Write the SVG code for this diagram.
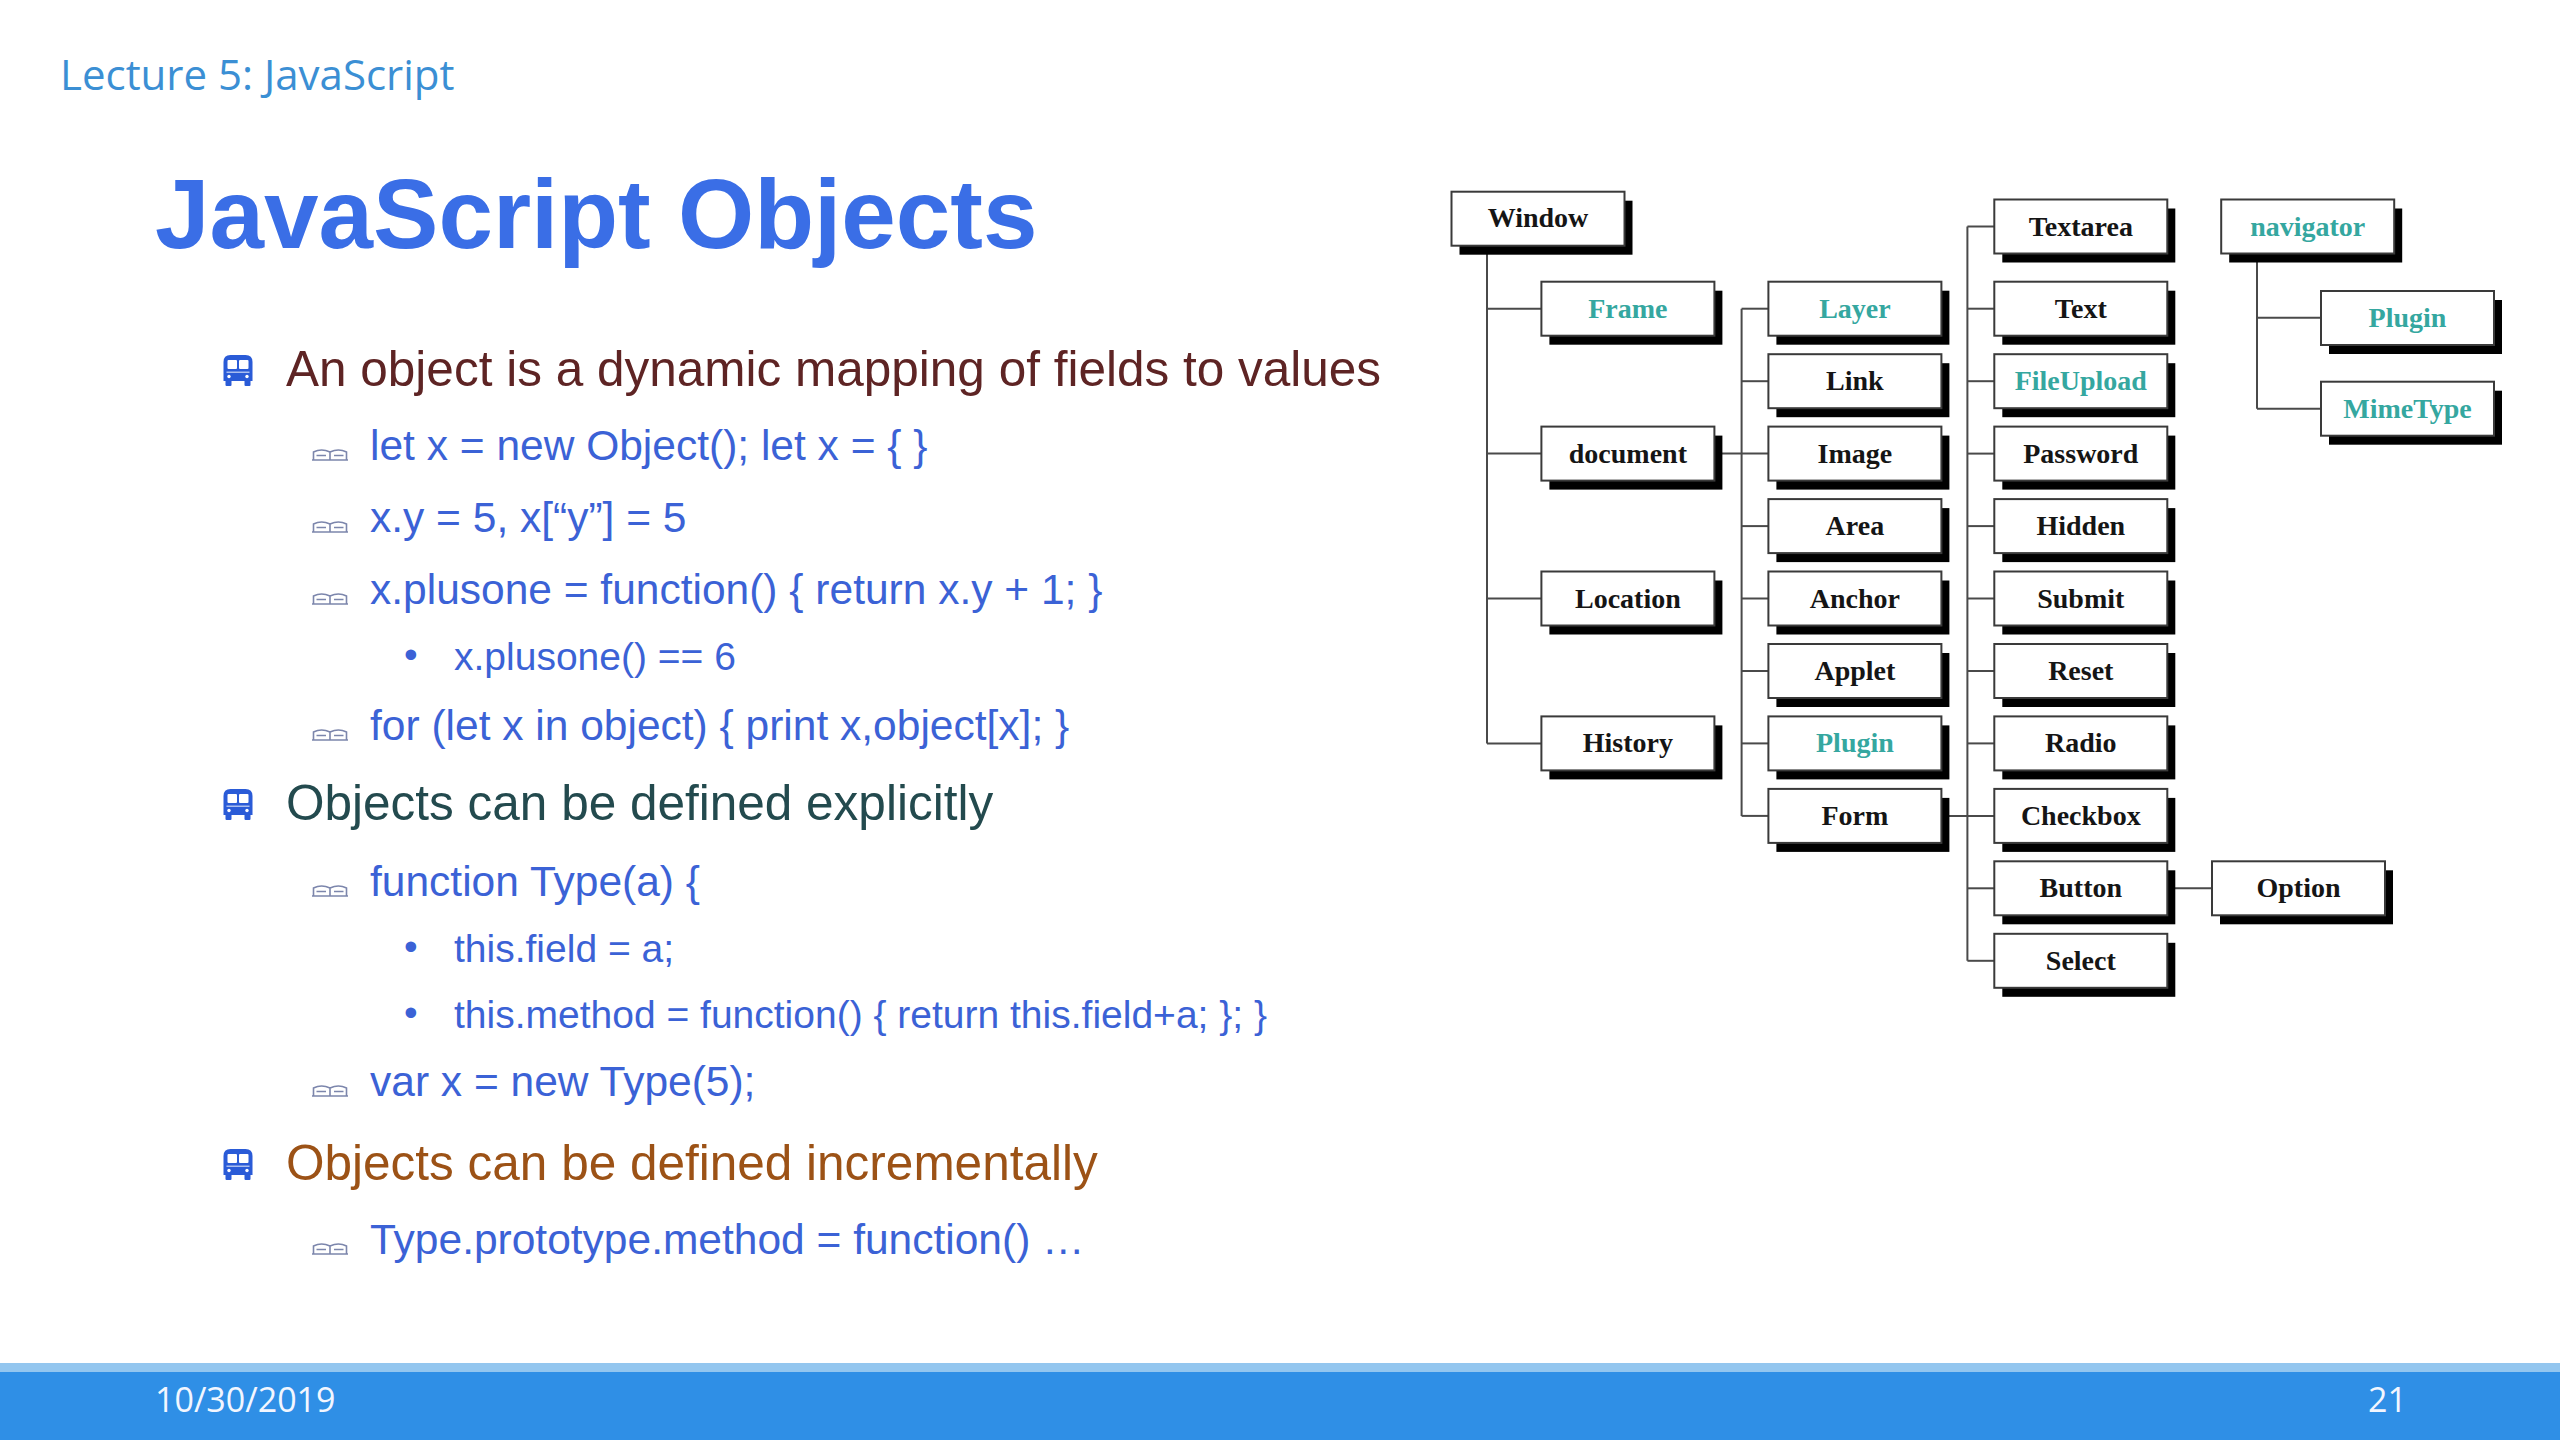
<svg xmlns="http://www.w3.org/2000/svg" xmlns:xlink="http://www.w3.org/1999/xlink" width="2560" height="1440" viewBox="0 0 2560 1440">
<style>
  .hdr{font-family:"Open Sans","Liberation Sans",sans-serif;font-size:42px;fill:#3b8fd4}
  .title{font-family:"Liberation Sans",Arial,sans-serif;font-size:98px;font-weight:bold;fill:#3a6ee6}
  .l1{font-family:"Liberation Sans",Arial,sans-serif;font-size:49.5px}
  .l2{font-family:"Liberation Sans",Arial,sans-serif;font-size:42.5px;fill:#3b62d6}
  .l3{font-family:"Liberation Sans",Arial,sans-serif;font-size:39px;fill:#3b62d6}
  .foot{font-family:"Open Sans","Liberation Sans",sans-serif;font-size:34px;fill:#f2f6ff}
  .box{fill:#ffffff;stroke:#3a3a3a;stroke-width:2}
  .sh{fill:#000000}
  .lbl{font-family:"Liberation Serif","Times New Roman",serif;font-size:28px;font-weight:bold;fill:#151515;text-anchor:middle}
  .teal{fill:#35a7a0}
  .conn line{stroke:#4a4a4a;stroke-width:2}
</style>
<defs>
  <g id="bus">
    <path d="M0,26 L0,7 Q0,0 7,0 L22,0 Q29,0 29,7 L29,26 Z" fill="#2a5bd7"/>
    <rect x="2" y="25" width="6" height="6" rx="1" fill="#2a5bd7"/>
    <rect x="21" y="25" width="6" height="6" rx="1" fill="#2a5bd7"/>
    <rect x="4" y="5" width="9.5" height="9" rx="1" fill="#ffffff"/>
    <rect x="15.5" y="5" width="9.5" height="9" rx="1" fill="#ffffff"/>
    <rect x="3" y="16.5" width="23" height="1.5" fill="#ffffff" opacity="0.6"/>
    <circle cx="5.5" cy="21.5" r="1.7" fill="#ffffff"/>
    <circle cx="23.5" cy="21.5" r="1.7" fill="#ffffff"/>
  </g>
  <g id="book">
    <path d="M0,13 L36,13 M1.5,13 L1.5,5 Q9.5,1 18,5 Q26.5,1 34.5,5 L34.5,13 M18,5 L18,13 M4.5,8.5 L14,8.5 M22,8.5 L31.5,8.5" fill="none" stroke="#7c86ac" stroke-width="1.6"/>
  </g>
  <g id="node">
    <rect class="sh" x="8" y="9" width="173" height="54"/>
    <rect class="box" x="0" y="0" width="173" height="54"/>
  </g>
</defs>
<rect width="2560" height="1440" fill="#ffffff"/>

<text class="hdr" x="60" y="90">Lecture 5: JavaScript</text>
<text class="title" x="155" y="248">JavaScript Objects</text>

<g id="bullets">
  <use xlink:href="#bus" href="#bus" x="223.5" y="355"/>
  <text class="l1" x="286" y="386" fill="#5e2424">An object is a dynamic mapping of fields to values</text>
  <use xlink:href="#book" href="#book" x="312" y="447"/>
  <text class="l2" x="370" y="460">let x = new Object(); let x = { }</text>
  <use xlink:href="#book" href="#book" x="312" y="519"/>
  <text class="l2" x="370" y="532">x.y = 5, x[“y”] = 5</text>
  <use xlink:href="#book" href="#book" x="312" y="591"/>
  <text class="l2" x="370" y="604">x.plusone = function() { return x.y + 1; }</text>
  <text class="l3" x="404" y="668">•</text>
  <text class="l3" x="454" y="670">x.plusone() == 6</text>
  <use xlink:href="#book" href="#book" x="312" y="727"/>
  <text class="l2" x="370" y="740">for (let x in object) { print x,object[x]; }</text>
  <use xlink:href="#bus" href="#bus" x="223.5" y="789"/>
  <text class="l1" x="286" y="820" fill="#234a4e">Objects can be defined explicitly</text>
  <use xlink:href="#book" href="#book" x="312" y="883"/>
  <text class="l2" x="370" y="896">function Type(a) {</text>
  <text class="l3" x="404" y="960">•</text>
  <text class="l3" x="454" y="962">this.field = a;</text>
  <text class="l3" x="404" y="1026">•</text>
  <text class="l3" x="454" y="1028">this.method = function() { return this.field+a; }; }</text>
  <use xlink:href="#book" href="#book" x="312" y="1083"/>
  <text class="l2" x="370" y="1096">var x = new Type(5);</text>
  <use xlink:href="#bus" href="#bus" x="223.5" y="1149"/>
  <text class="l1" x="286" y="1180" fill="#9c5216">Objects can be defined incrementally</text>
  <use xlink:href="#book" href="#book" x="312" y="1241"/>
  <text class="l2" x="370" y="1254">Type.prototype.method = function() …</text>
</g>

<g id="connectors" class="conn">
  <line x1="1487" y1="245" x2="1487" y2="743.4"/>
  <line x1="1487" y1="308.7" x2="1541.4" y2="308.7"/>
  <line x1="1487" y1="453.6" x2="1541.4" y2="453.6"/>
  <line x1="1487" y1="598.5" x2="1541.4" y2="598.5"/>
  <line x1="1487" y1="743.4" x2="1541.4" y2="743.4"/>
  <line x1="1714" y1="453.6" x2="1768.4" y2="453.6"/>
  <line x1="1741.6" y1="308.7" x2="1741.6" y2="815.9"/>
  <line x1="1741.6" y1="308.7" x2="1768.4" y2="308.7"/>
  <line x1="1741.6" y1="381.2" x2="1768.4" y2="381.2"/>
  <line x1="1741.6" y1="526.1" x2="1768.4" y2="526.1"/>
  <line x1="1741.6" y1="598.5" x2="1768.4" y2="598.5"/>
  <line x1="1741.6" y1="671" x2="1768.4" y2="671"/>
  <line x1="1741.6" y1="743.4" x2="1768.4" y2="743.4"/>
  <line x1="1741.6" y1="815.9" x2="1768.4" y2="815.9"/>
  <line x1="1941" y1="815.9" x2="1994.3" y2="815.9"/>
  <line x1="1967.4" y1="226.5" x2="1967.4" y2="960.8"/>
  <line x1="1967.4" y1="226.5" x2="1994.3" y2="226.5"/>
  <line x1="1967.4" y1="308.7" x2="1994.3" y2="308.7"/>
  <line x1="1967.4" y1="381.2" x2="1994.3" y2="381.2"/>
  <line x1="1967.4" y1="453.6" x2="1994.3" y2="453.6"/>
  <line x1="1967.4" y1="526.1" x2="1994.3" y2="526.1"/>
  <line x1="1967.4" y1="598.5" x2="1994.3" y2="598.5"/>
  <line x1="1967.4" y1="671" x2="1994.3" y2="671"/>
  <line x1="1967.4" y1="743.4" x2="1994.3" y2="743.4"/>
  <line x1="1967.4" y1="888.3" x2="1994.3" y2="888.3"/>
  <line x1="1967.4" y1="960.8" x2="1994.3" y2="960.8"/>
  <line x1="2167" y1="888.3" x2="2212" y2="888.3"/>
  <line x1="2257" y1="253.5" x2="2257" y2="408.7"/>
  <line x1="2257" y1="317.7" x2="2321" y2="317.7"/>
  <line x1="2257" y1="408.7" x2="2321" y2="408.7"/>
</g>

<g id="n-window" transform="translate(1451.5,191.7)"><use xlink:href="#node" href="#node"/><text class="lbl" x="86.5" y="35">Window</text></g>
<g id="n-frame" transform="translate(1541.4,281.7)"><use xlink:href="#node" href="#node"/><text class="lbl teal" x="86.5" y="36">Frame</text></g>
<g id="n-document" transform="translate(1541.4,426.6)"><use xlink:href="#node" href="#node"/><text class="lbl" x="86.5" y="36">document</text></g>
<g id="n-location" transform="translate(1541.4,571.5)"><use xlink:href="#node" href="#node"/><text class="lbl" x="86.5" y="36">Location</text></g>
<g id="n-history" transform="translate(1541.4,716.4)"><use xlink:href="#node" href="#node"/><text class="lbl" x="86.5" y="36">History</text></g>

<g id="n-layer" transform="translate(1768.4,281.7)"><use xlink:href="#node" href="#node"/><text class="lbl teal" x="86.5" y="36">Layer</text></g>
<g id="n-link" transform="translate(1768.4,354.2)"><use xlink:href="#node" href="#node"/><text class="lbl" x="86.5" y="36">Link</text></g>
<g id="n-image" transform="translate(1768.4,426.6)"><use xlink:href="#node" href="#node"/><text class="lbl" x="86.5" y="36">Image</text></g>
<g id="n-area" transform="translate(1768.4,499.1)"><use xlink:href="#node" href="#node"/><text class="lbl" x="86.5" y="36">Area</text></g>
<g id="n-anchor" transform="translate(1768.4,571.5)"><use xlink:href="#node" href="#node"/><text class="lbl" x="86.5" y="36">Anchor</text></g>
<g id="n-applet" transform="translate(1768.4,644)"><use xlink:href="#node" href="#node"/><text class="lbl" x="86.5" y="36">Applet</text></g>
<g id="n-plugin1" transform="translate(1768.4,716.4)"><use xlink:href="#node" href="#node"/><text class="lbl teal" x="86.5" y="36">Plugin</text></g>
<g id="n-form" transform="translate(1768.4,788.9)"><use xlink:href="#node" href="#node"/><text class="lbl" x="86.5" y="36">Form</text></g>

<g id="n-textarea" transform="translate(1994.3,199.5)"><use xlink:href="#node" href="#node"/><text class="lbl" x="86.5" y="36">Textarea</text></g>
<g id="n-text" transform="translate(1994.3,281.7)"><use xlink:href="#node" href="#node"/><text class="lbl" x="86.5" y="36">Text</text></g>
<g id="n-fileupload" transform="translate(1994.3,354.2)"><use xlink:href="#node" href="#node"/><text class="lbl teal" x="86.5" y="36">FileUpload</text></g>
<g id="n-password" transform="translate(1994.3,426.6)"><use xlink:href="#node" href="#node"/><text class="lbl" x="86.5" y="36">Password</text></g>
<g id="n-hidden" transform="translate(1994.3,499.1)"><use xlink:href="#node" href="#node"/><text class="lbl" x="86.5" y="36">Hidden</text></g>
<g id="n-submit" transform="translate(1994.3,571.5)"><use xlink:href="#node" href="#node"/><text class="lbl" x="86.5" y="36">Submit</text></g>
<g id="n-reset" transform="translate(1994.3,644)"><use xlink:href="#node" href="#node"/><text class="lbl" x="86.5" y="36">Reset</text></g>
<g id="n-radio" transform="translate(1994.3,716.4)"><use xlink:href="#node" href="#node"/><text class="lbl" x="86.5" y="36">Radio</text></g>
<g id="n-checkbox" transform="translate(1994.3,788.9)"><use xlink:href="#node" href="#node"/><text class="lbl" x="86.5" y="36">Checkbox</text></g>
<g id="n-button" transform="translate(1994.3,861.3)"><use xlink:href="#node" href="#node"/><text class="lbl" x="86.5" y="36">Button</text></g>
<g id="n-select" transform="translate(1994.3,933.8)"><use xlink:href="#node" href="#node"/><text class="lbl" x="86.5" y="36">Select</text></g>

<g id="n-option" transform="translate(2212,861.3)"><use xlink:href="#node" href="#node"/><text class="lbl" x="86.5" y="36">Option</text></g>
<g id="n-navigator" transform="translate(2221.2,199.5)"><use xlink:href="#node" href="#node"/><text class="lbl teal" x="86.5" y="36">navigator</text></g>
<g id="n-plugin2" transform="translate(2321,291)"><use xlink:href="#node" href="#node"/><text class="lbl teal" x="86.5" y="36">Plugin</text></g>
<g id="n-mimetype" transform="translate(2321,381.7)"><use xlink:href="#node" href="#node"/><text class="lbl teal" x="86.5" y="36">MimeType</text></g>

<g id="footer">
  <rect x="0" y="1363" width="2560" height="77" fill="#2f8fe6"/>
  <rect x="0" y="1363" width="2560" height="9" fill="#93c6ef"/>
  <text class="foot" x="155" y="1412">10/30/2019</text>
  <text class="foot" x="2368" y="1412">21</text>
</g>
</svg>
